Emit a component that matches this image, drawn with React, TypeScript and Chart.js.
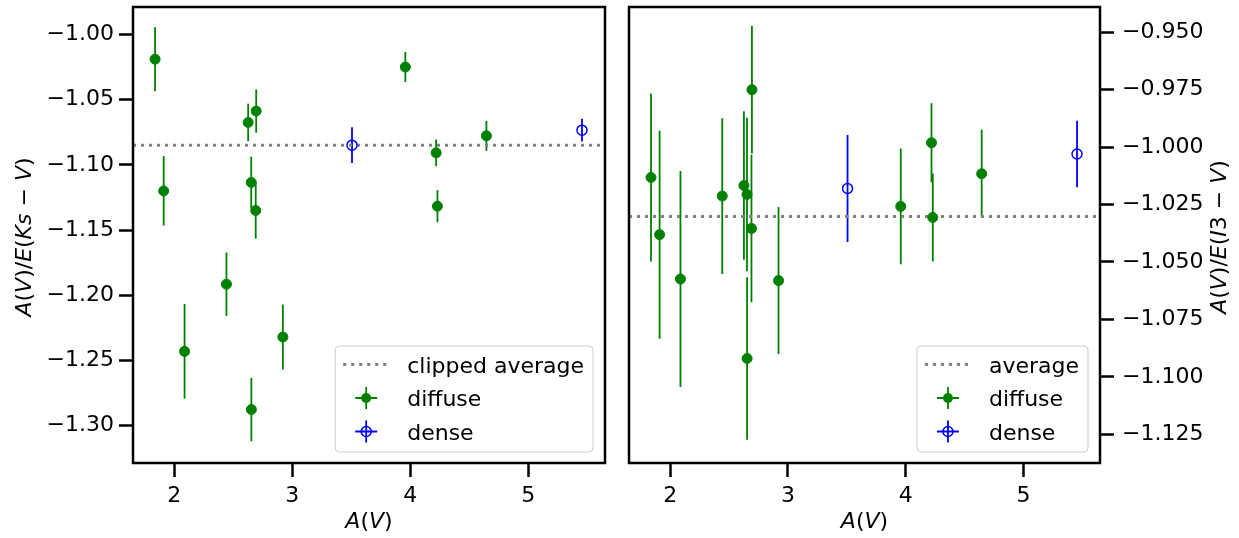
import { useEffect, useRef } from 'react';
import { Chart, registerables } from 'chart.js';

Chart.register(...registerables);

const FONT = '"DejaVu Sans", sans-serif';

// ---- axes ----
const X_LIMITS = [1.65, 5.65];
const X_TICKS = [2, 3, 4, 5];
const LEFT_Y_LIMITS = [-1.3286, -0.979];
const LEFT_Y_TICKS = [-1.3, -1.25, -1.2, -1.15, -1.1, -1.05, -1.0];
const RIGHT_Y_LIMITS = [-1.1375, -0.939];
const RIGHT_Y_TICKS = [-1.125, -1.1, -1.075, -1.05, -1.025, -1.0, -0.975, -0.95];

// ---- data ----
const diffuseAV = [1.837, 1.91, 2.087, 2.442, 2.626, 2.652, 2.653, 2.69, 2.694, 2.92, 3.958, 4.219, 4.23, 4.645];
const diffuseKs = [-1.019, -1.120, -1.243, -1.1915, -1.0675, -1.1135, -1.2876, -1.135, -1.0588, -1.232, -1.025, -1.0908, -1.1317, -1.0778];
const diffuseKsErr = [0.0245, 0.0266, 0.0363, 0.0243, 0.0144, 0.0197, 0.0243, 0.0216, 0.0166, 0.0249, 0.0115, 0.0102, 0.0123, 0.0115];
const diffuseI3 = [-1.0132, -1.0381, -1.0574, -1.0213, -1.0167, -1.0206, -1.092, -1.0354, -0.975, -1.0581, -1.0258, -0.9981, -1.0306, -1.0116];
const diffuseI3Err = [0.0366, 0.0453, 0.047, 0.0339, 0.0323, 0.0334, 0.0354, 0.0321, 0.0278, 0.032, 0.0252, 0.0172, 0.0191, 0.0192];

const denseAV = [3.506, 5.455];
const denseKs = [-1.0849, -1.0734];
const denseKsErr = [0.0137, 0.0087];
const denseI3 = [-1.018, -1.003];
const denseI3Err = [0.0233, 0.0145];

const clippedAvgKs = -1.0849;
const avgI3 = -1.0302;

const GREEN = '#008000';
const BLUE = '#0000ff';
const GRAY = '#808080';

type Seg = [string, boolean];
const X_TITLE: Seg[] = [['A', true], ['(', false], ['V', true], [')', false]];
const LEFT_Y_TITLE: Seg[] = [['A', true], ['(', false], ['V', true], [')/', false], ['E', true], ['(', false], ['Ks', true], [' \u2212 ', false], ['V', true], [')', false]];
const RIGHT_Y_TITLE: Seg[] = [['A', true], ['(', false], ['V', true], [')/', false], ['E', true], ['(', false], ['I', true], ['3', false], [' \u2212 ', false], ['V', true], [')', false]];

const fmt = (v: number, d: number) => (v < 0 ? '\u2212' : '') + Math.abs(v).toFixed(d);

function drawMixed(ctx: CanvasRenderingContext2D, segs: Seg[], cx: number, cy: number, rot: boolean) {
  ctx.save();
  ctx.translate(cx, cy);
  if (rot) ctx.rotate(-Math.PI / 2);
  ctx.fillStyle = '#000';
  ctx.textBaseline = 'middle';
  ctx.textAlign = 'left';
  let total = 0;
  const widths = segs.map(([t, it]) => {
    ctx.font = `${it ? 'italic ' : ''}22px ${FONT}`;
    const w = ctx.measureText(t).width;
    total += w;
    return w;
  });
  let x = -total / 2;
  segs.forEach(([t, it], i) => {
    ctx.font = `${it ? 'italic ' : ''}22px ${FONT}`;
    ctx.fillText(t, x, 0);
    x += widths[i];
  });
  ctx.restore();
}

const decorPlugin = {
  id: 'decor',
  beforeDatasetsDraw(chart: any) {
    const { ctx } = chart;
    const xs = chart.scales.x;
    const ys = chart.scales.y;
    chart.data.datasets.forEach((ds: any) => {
      if (!ds.yErr) return;
      ctx.save();
      ctx.strokeStyle = ds.borderColor;
      ctx.lineWidth = 1.8;
      ds.data.forEach((p: any, j: number) => {
        const e = ds.yErr[j];
        const px = xs.getPixelForValue(p.x);
        ctx.beginPath();
        ctx.moveTo(px, ys.getPixelForValue(p.y - e));
        ctx.lineTo(px, ys.getPixelForValue(p.y + e));
        ctx.stroke();
      });
      ctx.restore();
    });
  },
  afterDraw(chart: any, _args: any, opts: any) {
    const { ctx, chartArea: a } = chart;
    // frame
    ctx.save();
    ctx.strokeStyle = '#000';
    ctx.lineWidth = 2.5;
    ctx.strokeRect(a.left, a.top, a.right - a.left, a.bottom - a.top);
    ctx.restore();

    // legend
    const entries = opts.legend as { label: string; kind: string; color: string }[];
    ctx.save();
    ctx.font = `22px ${FONT}`;
    const maxW = Math.max(...entries.map((e) => ctx.measureText(e.label).width));
    const boxRight = a.right - 12;
    const boxBottom = a.bottom - 11;
    const boxTop = boxBottom - 106;
    const textLeft = boxRight - 9 - maxW;
    const boxLeft = textLeft - 72;
    const r = 4;
    ctx.beginPath();
    ctx.moveTo(boxLeft + r, boxTop);
    ctx.lineTo(boxRight - r, boxTop);
    ctx.arcTo(boxRight, boxTop, boxRight, boxTop + r, r);
    ctx.lineTo(boxRight, boxBottom - r);
    ctx.arcTo(boxRight, boxBottom, boxRight - r, boxBottom, r);
    ctx.lineTo(boxLeft + r, boxBottom);
    ctx.arcTo(boxLeft, boxBottom, boxLeft, boxBottom - r, r);
    ctx.lineTo(boxLeft, boxTop + r);
    ctx.arcTo(boxLeft, boxTop, boxLeft + r, boxTop, r);
    ctx.closePath();
    ctx.fillStyle = 'rgba(255,255,255,0.8)';
    ctx.fill();
    ctx.strokeStyle = '#cccccc';
    ctx.lineWidth = 1;
    ctx.stroke();

    entries.forEach((e, k) => {
      const ry = boxTop + 18.5 + k * 33.5;
      const hx = boxLeft + 31;
      if (e.kind === 'dotted') {
        ctx.save();
        ctx.strokeStyle = e.color;
        ctx.lineWidth = 3;
        ctx.setLineDash([3, 5]);
        ctx.beginPath();
        ctx.moveTo(boxLeft + 8, ry);
        ctx.lineTo(boxLeft + 54, ry);
        ctx.stroke();
        ctx.restore();
      } else {
        ctx.save();
        ctx.strokeStyle = e.color;
        ctx.lineWidth = 1.8;
        ctx.beginPath();
        ctx.moveTo(hx - 11, ry);
        ctx.lineTo(hx + 11, ry);
        ctx.moveTo(hx, ry - 11);
        ctx.lineTo(hx, ry + 11);
        ctx.stroke();
        ctx.beginPath();
        ctx.arc(hx, ry, 5, 0, Math.PI * 2);
        if (e.kind === 'filled') {
          ctx.fillStyle = e.color;
          ctx.fill();
        } else {
          ctx.lineWidth = 1.5;
          ctx.stroke();
        }
        ctx.restore();
      }
      ctx.fillStyle = '#000';
      ctx.textBaseline = 'alphabetic';
      ctx.textAlign = 'left';
      ctx.font = `22px ${FONT}`;
      ctx.fillText(e.label, textLeft, ry + 8);
    });
    ctx.restore();

    // axis titles
    drawMixed(ctx, X_TITLE, (a.left + a.right) / 2, 522, false);
    drawMixed(ctx, opts.yTitle, opts.yTitleX, (a.top + a.bottom) / 2 + 2, true);
  },
};

interface PanelCfg {
  width: number;
  yPos: 'left' | 'right';
  yLimits: number[];
  yTicks: number[];
  yDecimals: number;
  padding: { left: number; right: number; top: number; bottom: number };
  yWidth: number;
  yPad: number;
  diffY: number[];
  diffErr: number[];
  denseY: number[];
  denseErr: number[];
  avg: number;
  avgLabel: string;
  yTitle: Seg[];
  yTitleX: number;
}

function Panel({ cfg, left }: { cfg: PanelCfg; left: number }) {
  const ref = useRef<HTMLCanvasElement | null>(null);
  useEffect(() => {
    if (!ref.current) return;
    const tickFont = { family: FONT, size: 22 };
    const chart = new Chart(ref.current, {
      type: 'scatter',
      data: {
        datasets: [
          {
            type: 'scatter',
            label: 'diffuse',
            data: diffuseAV.map((x, i) => ({ x, y: cfg.diffY[i] })),
            yErr: cfg.diffErr,
            backgroundColor: GREEN,
            borderColor: GREEN,
            borderWidth: 1,
            pointRadius: 5,
            order: 1,
          } as any,
          {
            type: 'scatter',
            label: 'dense',
            data: denseAV.map((x, i) => ({ x, y: cfg.denseY[i] })),
            yErr: cfg.denseErr,
            backgroundColor: 'rgba(0,0,0,0)',
            borderColor: BLUE,
            borderWidth: 1.5,
            pointRadius: 5,
            order: 1,
          } as any,
          {
            type: 'line',
            label: cfg.avgLabel,
            data: [
              { x: X_LIMITS[0], y: cfg.avg },
              { x: X_LIMITS[1], y: cfg.avg },
            ],
            borderColor: GRAY,
            borderWidth: 3,
            borderDash: [3, 5],
            pointRadius: 0,
            showLine: true,
            fill: false,
            order: 3,
          } as any,
        ],
      },
      options: {
        responsive: false,
        maintainAspectRatio: false,
        animation: false,
        events: [],
        layout: { padding: cfg.padding },
        plugins: {
          legend: { display: false },
          tooltip: { enabled: false },
          decor: {
            legend: [
              { label: cfg.avgLabel, kind: 'dotted', color: GRAY },
              { label: 'diffuse', kind: 'filled', color: GREEN },
              { label: 'dense', kind: 'open', color: BLUE },
            ],
            yTitle: cfg.yTitle,
            yTitleX: cfg.yTitleX,
          },
        } as any,
        scales: {
          x: {
            type: 'linear',
            min: X_LIMITS[0],
            max: X_LIMITS[1],
            afterBuildTicks: (s: any) => {
              s.ticks = X_TICKS.map((v) => ({ value: v }));
            },
            afterFit: (s: any) => {
              s.height = 75;
              s.paddingLeft = 0;
              s.paddingRight = 0;
              s.paddingTop = 0;
              s.paddingBottom = 0;
            },
            grid: { drawOnChartArea: false, drawTicks: true, tickLength: 14, tickWidth: 2.5, tickColor: '#000', color: '#000' },
            border: { display: false },
            ticks: { color: '#000', font: tickFont, padding: 6, maxRotation: 0, callback: (v: any) => String(v) },
          },
          y: {
            type: 'linear',
            position: cfg.yPos,
            min: cfg.yLimits[0],
            max: cfg.yLimits[1],
            afterBuildTicks: (s: any) => {
              s.ticks = cfg.yTicks.map((v) => ({ value: v }));
            },
            afterFit: (s: any) => {
              s.width = cfg.yWidth;
              s.paddingTop = 0;
              s.paddingBottom = 0;
              s.paddingLeft = 0;
              s.paddingRight = 0;
            },
            grid: { drawOnChartArea: false, drawTicks: true, tickLength: 14, tickWidth: 2.5, tickColor: '#000', color: '#000' },
            border: { display: false },
            ticks: { color: '#000', font: tickFont, padding: cfg.yPad, callback: (v: any) => fmt(Number(v), cfg.yDecimals) },
          },
        },
      },
      plugins: [decorPlugin as any],
    });
    return () => chart.destroy();
  }, [cfg]);
  return (
    <canvas
      ref={ref}
      width={cfg.width}
      height={538}
      style={{ position: 'absolute', left, top: 0, width: cfg.width, height: 538, display: 'block' }}
    />
  );
}

const LEFT_CFG: PanelCfg = {
  width: 615,
  yPos: 'left',
  yLimits: LEFT_Y_LIMITS,
  yTicks: LEFT_Y_TICKS,
  yDecimals: 2,
  padding: { left: 0, right: 10, top: 7, bottom: 0 },
  yWidth: 133,
  yPad: 5,
  diffY: diffuseKs,
  diffErr: diffuseKsErr,
  denseY: denseKs,
  denseErr: denseKsErr,
  avg: clippedAvgKs,
  avgLabel: 'clipped average',
  yTitle: LEFT_Y_TITLE,
  yTitleX: 25,
};

const RIGHT_CFG: PanelCfg = {
  width: 624,
  yPos: 'right',
  yLimits: RIGHT_Y_LIMITS,
  yTicks: RIGHT_Y_TICKS,
  yDecimals: 3,
  padding: { left: 14, right: 0, top: 7, bottom: 0 },
  yWidth: 139,
  yPad: 8,
  diffY: diffuseI3,
  diffErr: diffuseI3Err,
  denseY: denseI3,
  denseErr: denseI3Err,
  avg: avgI3,
  avgLabel: 'average',
  yTitle: RIGHT_Y_TITLE,
  yTitleX: 605,
};

export default function App() {
  return (
    <div style={{ position: 'fixed', left: 0, top: 0, width: 1239, height: 538, background: '#fff', overflow: 'hidden' }}>
      <Panel cfg={LEFT_CFG} left={0} />
      <Panel cfg={RIGHT_CFG} left={615} />
    </div>
  );
}
